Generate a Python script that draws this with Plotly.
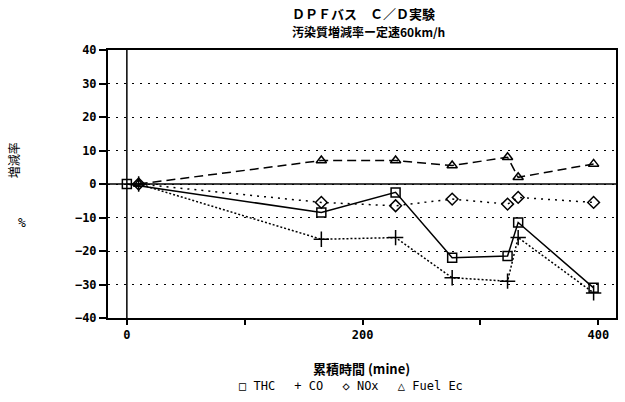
import plotly.graph_objects as go

# Elapsed time (min) for each measurement
time_thc = [0, 165, 228, 276, 323, 332, 396]
time_other = [10, 165, 228, 276, 323, 332, 396]

# Change rate of each pollutant vs. baseline (%)
thc = [0, -8.5, -2.5, -22, -21.5, -11.5, -31]
co = [0, -16.5, -16, -28, -29, -16, -32.5]
nox = [0, -5.5, -6.5, -4.5, -6, -4, -5.5]
fuel_ec = [0, 7, 7, 5.5, 8, 2, 6]

x_tickvals = [0, 100, 200, 300, 400]
x_ticktext = ["0", "", "200", "", "400"]
y_tickvals = [-40, -30, -20, -10, 0, 10, 20, 30, 40]

BLACK = "black"
JP = "Noto Sans CJK JP"
MONO = "DejaVu Sans Mono"

fig = go.Figure()

fig.add_trace(go.Scatter(
    x=time_thc, y=thc, mode="lines+markers", name="THC",
    line=dict(color=BLACK, width=1.5),
    marker=dict(symbol="square-open", size=9, color=BLACK, line=dict(width=1.5)),
))
fig.add_trace(go.Scatter(
    x=time_other, y=co, mode="lines+markers", name="CO",
    line=dict(color=BLACK, width=1.5, dash="2px,2px"),
    marker=dict(symbol="cross-thin-open", size=11, color=BLACK, line=dict(width=1.5, color=BLACK)),
))
fig.add_trace(go.Scatter(
    x=time_other, y=nox, mode="lines+markers", name="NOx",
    line=dict(color=BLACK, width=1.5, dash="2px,5px"),
    marker=dict(symbol="diamond-open", size=9, color=BLACK, line=dict(width=1.5)),
))
fig.add_trace(go.Scatter(
    x=time_other, y=fuel_ec, mode="lines+markers", name="Fuel Ec",
    line=dict(color=BLACK, width=1.5, dash="9px,5px"),
    marker=dict(symbol="triangle-up-open", size=9, color=BLACK, line=dict(width=1.5)),
))

# solid reference lines at y = 0 and x = 0
fig.add_shape(type="line", xref="paper", yref="y", x0=0, x1=1, y0=0, y1=0,
              line=dict(color=BLACK, width=1.5), layer="below")
fig.add_shape(type="line", xref="x", yref="paper", x0=0, x1=0, y0=0, y1=1,
              line=dict(color=BLACK, width=1.5), layer="below")

fig.update_xaxes(
    range=[-16, 415], tickvals=x_tickvals, ticktext=x_ticktext,
    ticks="outside", ticklen=5, tickwidth=1.5, tickcolor=BLACK,
    showline=True, linecolor=BLACK, linewidth=2, mirror=True,
    showgrid=False, zeroline=False,
    tickfont=dict(family=MONO, size=12, color=BLACK, weight="bold"),
)
fig.update_yaxes(
    range=[-40, 40], tickvals=y_tickvals,
    ticks="outside", ticklen=7, tickwidth=1.5, tickcolor=BLACK,
    showline=True, linecolor=BLACK, linewidth=2, mirror=True,
    showgrid=True, gridcolor=BLACK, gridwidth=1.3, griddash="2px,6px",
    zeroline=False,
    tickfont=dict(family=MONO, size=12, color=BLACK, weight="bold"),
)

annotations = [
    dict(text="ＤＰＦバス　Ｃ／Ｄ実験", x=365, y=13, font=dict(family=JP, size=13, weight="bold")),
    dict(text="汚染質増減率ー定速60km/h", x=370, y=31, font=dict(family=JP, size=12, weight="bold")),
    dict(text="累積時間 (mine)", x=362, y=368, font=dict(family=JP, size=13, weight="bold")),
    dict(text="□ THC　 + CO　 ◇ NOx　 △ Fuel Ec", x=352, y=386, font=dict(family=MONO, size=12)),
    dict(text="増減率", x=13, y=160, textangle=-90, font=dict(family=JP, size=12)),
    dict(text="%", x=22, y=222, font=dict(family=MONO, size=13)),
]
for a in annotations:
    fig.add_annotation(
        text=a["text"], xref="paper", yref="paper",
        x=(a["x"] - 108) / 510, y=(318 - a["y"]) / 268,
        xanchor="center", yanchor="middle", showarrow=False,
        textangle=a.get("textangle", 0),
        font=dict(color=BLACK, **a["font"]),
    )

fig.update_layout(
    width=625, height=402,
    margin=dict(l=108, r=7, t=50, b=84),
    paper_bgcolor="white", plot_bgcolor="white",
    showlegend=False,
)

fig.write_html("out.html")
